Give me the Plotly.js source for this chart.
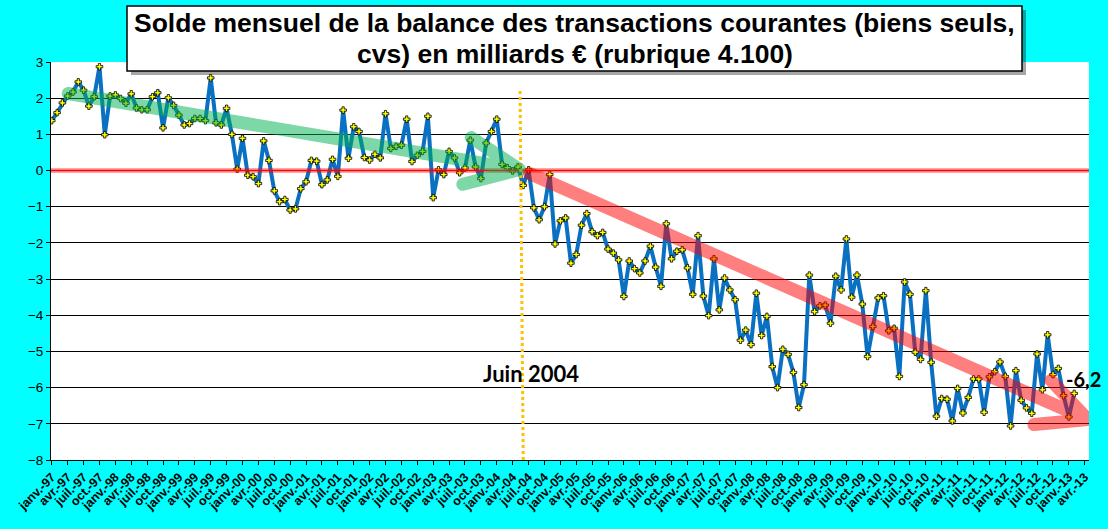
<!DOCTYPE html>
<html>
<head>
<meta charset="utf-8">
<script src="https://cdn.plot.ly/plotly-3.0.1.min.js"></script>
<style>
  html, body { margin: 0; padding: 0; background: #00ffff; }
  #plot { width: 1108px; height: 529px; }
</style>
</head>
<body>
<div id="plot"></div>
<script>
// solde mensuel, janv-97 -> févr-13 (milliards €)
const monthValues = [
  1.38, 1.60, 1.87, 2.06, 2.17, 2.45, 2.22, 1.78, 2.04, 2.87, 0.99, 2.06,
  2.09, 1.99, 1.86, 2.12, 1.73, 1.68, 1.68, 2.04, 2.15, 1.18, 2.01, 1.80,
  1.53, 1.26, 1.30, 1.44, 1.44, 1.38, 2.56, 1.32, 1.26, 1.72, 1.00, 0.04,
  0.89, -0.13, -0.17, -0.36, 0.82, 0.28, -0.56, -0.86, -0.80, -1.09, -1.06, -0.50,
  -0.31, 0.28, 0.26, -0.39, -0.26, 0.31, -0.16, 1.67, 0.34, 1.21, 1.08, 0.36,
  0.29, 0.45, 0.35, 1.57, 0.61, 0.67, 0.70, 1.42, 0.25, 0.42, 0.53, 1.50,
  -0.75, 0.02, -0.11, 0.53, 0.35, -0.06, 0.07, 0.84, 0.10, -0.22, 0.76, 1.08,
  1.42, 0.17, 0.08, -0.01, 0.10, -0.41, 0.02, -1.03, -1.36, -1.00, -0.11, -2.03,
  -1.39, -1.31, -2.56, -2.32, -1.51, -1.19, -1.69, -1.80, -1.71, -2.17, -2.28, -2.47,
  -3.48, -2.50, -2.71, -2.83, -2.50, -2.09, -2.67, -3.20, -1.47, -2.44, -2.23, -2.19,
  -2.69, -3.42, -1.80, -3.47, -4.01, -2.44, -3.85, -2.97, -3.30, -3.57, -4.69, -4.41,
  -4.81, -3.39, -4.56, -4.03, -5.42, -6.00, -4.94, -5.08, -5.58, -6.55, -5.92, -2.89,
  -3.90, -3.74, -3.72, -4.22, -2.92, -3.30, -1.89, -3.50, -2.89, -3.69, -5.14, -4.31,
  -3.52, -3.46, -4.43, -4.36, -5.69, -3.08, -3.42, -5.02, -5.22, -3.32, -5.30, -6.79,
  -6.30, -6.32, -6.92, -6.02, -6.70, -6.27, -5.76, -5.76, -6.68, -5.70, -5.56, -5.29,
  -5.69, -7.06, -5.53, -6.35, -6.56, -6.71, -5.07, -6.06, -4.54, -5.64, -5.47, -6.22,
  -6.81, -6.16
];

const quarterNames = ['janv.', 'avr.', 'juil.', 'oct.'];
const firstYear = 1997;
const tickCount = 66;   // janv-97 .. avr-13

const yTicks = [-8, -7, -6, -5, -4, -3, -2, -1, 0, 1, 2, 3];

const titleLines = [
    'Solde mensuel de la balance des transactions courantes (biens seuls,',
    'cvs) en milliards € (rubrique 4.100)'
];

// month index on the x axis
const xIdx = monthValues.map((v, i) => i);

const tickVals = [];
const tickText = [];
for (let q = 0; q < tickCount; q++) {
    const yr = (firstYear + Math.floor(q / 4)) % 100;
    tickVals.push(q * 3);
    tickText.push(quarterNames[q % 4] + '-' + String(yr).padStart(2, '0'));
}

const trace = {
    x: xIdx,
    y: monthValues,
    type: 'scatter',
    mode: 'lines+markers',
    line: { color: '#0a70c2', width: 4 },
    marker: {
        symbol: 'cross',
        size: 5.5,
        color: '#ffff00',
        line: { color: '#000000', width: 0.8 }
    },
    hoverinfo: 'x+y'
};

// plot area in pixels: left 51, right 1089, top 62, bottom 460
const px = v => (v - 51) / 1038;
const py = v => (460 - v) / 398;

const layout = {
    width: 1108,
    height: 529,
    margin: { l: 51, r: 19, t: 62, b: 69, pad: 0 },
    paper_bgcolor: '#00ffff',
    plot_bgcolor: '#ffffff',
    showlegend: false,
    font: { family: 'Liberation Sans, Arial, sans-serif', color: '#000' },
    xaxis: {
        range: [-0.15, 195.8],
        tickmode: 'array',
        tickvals: tickVals,
        ticktext: tickText,
        tickangle: -45,
        tickfont: { size: 12.5, weight: 'bold', color: '#000' },
        ticks: 'outside',
        ticklen: 4,
        tickcolor: '#000',
        showgrid: false,
        zeroline: false,
        showline: true,
        linecolor: '#000',
        linewidth: 1
    },
    yaxis: {
        range: [-8, 3],
        tickmode: 'array',
        tickvals: yTicks,
        tickfont: { size: 13.5, color: '#000' },
        ticks: 'outside',
        ticklen: 4,
        tickcolor: '#000',
        showgrid: true,
        gridcolor: '#000',
        gridwidth: 1,
        zeroline: false,
        showline: true,
        linecolor: '#000',
        linewidth: 1
    },
    shapes: [
        // title box + shadow
        {
            type: 'rect', xref: 'paper', yref: 'paper', layer: 'above',
            x0: px(131), x1: px(1026), y0: py(75), y1: py(10),
            fillcolor: 'rgba(0,0,0,0.35)', line: { width: 0 }
        },
        {
            type: 'rect', xref: 'paper', yref: 'paper', layer: 'above',
            x0: px(127), x1: px(1022), y0: py(71), y1: py(6),
            fillcolor: '#ffffff', line: { color: '#000', width: 1.5 }
        },
        // zero line
        {
            type: 'line', xref: 'paper', yref: 'y', layer: 'above',
            x0: 0, x1: 1, y0: 0, y1: 0,
            line: { color: 'rgba(255,0,0,0.35)', width: 5 }
        },
        {
            type: 'line', xref: 'paper', yref: 'y', layer: 'above',
            x0: 0, x1: 1, y0: 0, y1: 0,
            line: { color: '#ff0000', width: 1.5 }
        },
        // juin 2004 marker
        {
            type: 'line', xref: 'x', yref: 'y', layer: 'above',
            x0: 88.4, x1: 89.0, y0: 2.2, y1: -8,
            line: { color: '#ffc000', width: 3, dash: 'dot' }
        },
        // green trend arrow
        {
            type: 'path', xref: 'x', yref: 'y', layer: 'above',
            path: 'M 3.1,2.13 L 88.3,0.03 M 79.2,0.91 L 88.3,0.03 L 77.6,-0.38',
            line: { color: '#00b050', width: 13 },
            opacity: 0.5
        },
        // red trend arrow
        {
            type: 'path', xref: 'x', yref: 'y', layer: 'above',
            path: 'M 90.2,-0.08 L 195.6,-6.88 M 188.6,-5.8 L 195.6,-6.88 L 185.4,-7.02',
            line: { color: '#ff0000', width: 13 },
            opacity: 0.5
        }
    ],
    annotations: [
        {
            xref: 'paper', yref: 'paper',
            x: px(574.5), y: py(23.5),
            xanchor: 'center', yanchor: 'middle',
            text: '<b>' + titleLines[0] + '</b>',
            showarrow: false,
            font: { family: 'Liberation Sans, Arial, sans-serif', size: 26.5, color: '#000' }
        },
        {
            xref: 'paper', yref: 'paper',
            x: px(574.5), y: py(54.5),
            xanchor: 'center', yanchor: 'middle',
            text: '<b>' + titleLines[1] + '</b>',
            showarrow: false,
            font: { family: 'Liberation Sans, Arial, sans-serif', size: 26.5, color: '#000' }
        },
        {
            xref: 'x', yref: 'y',
            x: 90.5, y: -5.6,
            text: '<b>Juin 2004</b>',
            showarrow: false,
            font: { family: 'Lato, sans-serif', size: 22, color: '#000' }
        },
        {
            xref: 'x', yref: 'y',
            x: 194.7, y: -5.75,
            text: '<b>-6,2</b>',
            showarrow: false,
            font: { family: 'Lato, sans-serif', size: 20, color: '#000' }
        }
    ]
};

Plotly.newPlot('plot', [trace], layout, { displayModeBar: false, staticPlot: true }).then(function(gd) {
    // round ends on the thick arrows, like the hand-drawn ones
    gd.querySelectorAll('.shapelayer path').forEach(function(p) {
        const w = parseFloat(p.style.strokeWidth || p.getAttribute('stroke-width') || 0);
        if (w > 10) {
            p.style.strokeLinecap = 'round';
            p.style.strokeLinejoin = 'round';
        }
    });
});
</script>
</body>
</html>
